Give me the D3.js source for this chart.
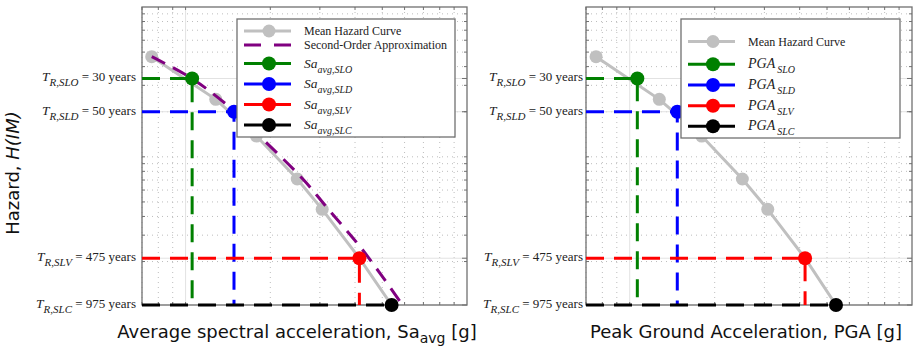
<!DOCTYPE html>
<html>
<head>
<meta charset="utf-8">
<script src="https://cdn.jsdelivr.net/npm/d3@7"></script>
<style>
    body { margin: 0; background: #fff; }
</style>
</head>
<body>
<div id="viz"></div>
<script>
// return periods of the four limit states
const limitStates = ["SLO", "SLD", "SLV", "SLC"];
const returnPeriods = [30, 50, 475, 975];
const lsColors = ["#008000", "#0000ff", "#ff0000", "#000000"];

// mean hazard curve (annual rate of exceedance)
const hazardRates = [0.0466, 0.0242, 0.01376, 0.00711, 0.00446];
const saavgValues = [0.0758, 0.128, 0.1785, 0.2493, 0.3058];
const pgaValues = [0.076, 0.1273, 0.1799, 0.2506, 0.3083];

// intensity at each limit state
const saavgLS = [0.1055, 0.1486, 0.4146, 0.5396];
const pgaLS = [0.1064, 0.1474, 0.418, 0.538];

// second-order approximation
const approxSa = [0.0758, 0.1055, 0.1474, 0.1833, 0.261, 0.3219, 0.4259, 0.5903];
const approxRate = [0.0466, 0.0332, 0.02053, 0.01376, 0.00711, 0.00446, 0.002388, 0.001025];

const width = 914;
const height = 353;

const svg = d3.select("#viz").append("svg")
    .attr("width", width)
    .attr("height", height)
    .style("font-family", "'Liberation Serif', 'Times New Roman', serif");

const y = d3.scaleLog().domain([1 / 975, 0.1]).range([305, 7]);

function addSub(text, main, sub, mainSize, subSize, gap) {
    text.append("tspan").style("font-style", "italic").style("font-size", mainSize + "px").text(main);
    text.append("tspan").style("font-style", "italic").style("font-size", subSize + "px")
        .attr("dx", gap || 0).attr("dy", 5).text(sub);
}

function drawPanel(opts) {
    const x = d3.scaleLog().domain([0.07, 1]).range(opts.range);
    const [x0, x1] = opts.range;
    const y0 = y.range()[1], y1 = y.range()[0];
    const g = svg.append("g");

    g.append("clipPath").attr("id", "clip" + opts.id)
        .append("rect").attr("x", x0).attr("y", y0).attr("width", x1 - x0).attr("height", y1 - y0);

    // minor grid
    const xMinor = [0.07, 0.08, 0.09, 0.2, 0.3, 0.4, 0.5, 0.6, 0.7, 0.8, 0.9];
    const yMinor = [];
    [0.001, 0.01].forEach(e => d3.range(1, 10).forEach(k => yMinor.push(k * e)));
    const yMinorIn = yMinor.filter(v => v >= 1 / 975 && v < 0.1);

    g.selectAll(".xminor").data(xMinor).enter().append("line")
        .attr("x1", d => x(d)).attr("x2", d => x(d)).attr("y1", y0).attr("y2", y1)
        .attr("stroke", "#bdbdbd").attr("stroke-width", 1).attr("stroke-dasharray", "1,4");
    g.selectAll(".yminor").data(yMinorIn).enter().append("line")
        .attr("x1", x0).attr("x2", x1).attr("y1", d => y(d)).attr("y2", d => y(d))
        .attr("stroke", "#bdbdbd").attr("stroke-width", 1).attr("stroke-dasharray", "1,4");

    // major grid
    g.append("line").attr("x1", x(0.1)).attr("x2", x(0.1)).attr("y1", y0).attr("y2", y1)
        .attr("stroke", "#e2e2e2").attr("stroke-width", 1);
    g.selectAll(".ymajor").data(returnPeriods).enter().append("line")
        .attr("x1", x0).attr("x2", x1).attr("y1", d => y(1 / d)).attr("y2", d => y(1 / d))
        .attr("stroke", "#e2e2e2").attr("stroke-width", 1);

    // ticks
    const tk = g.append("g").attr("stroke", "#707070").attr("stroke-width", 1);
    xMinor.concat([0.1]).forEach(v => {
        tk.append("line").attr("x1", x(v)).attr("x2", x(v)).attr("y1", y1).attr("y2", y1 - 3);
        tk.append("line").attr("x1", x(v)).attr("x2", x(v)).attr("y1", y0).attr("y2", y0 + 3);
    });
    yMinorIn.forEach(v => {
        tk.append("line").attr("x1", x0).attr("x2", x0 + 3).attr("y1", y(v)).attr("y2", y(v));
        tk.append("line").attr("x1", x1).attr("x2", x1 - 3).attr("y1", y(v)).attr("y2", y(v));
    });
    returnPeriods.forEach(T => {
        tk.append("line").attr("x1", x0).attr("x2", x0 + 5).attr("y1", y(1 / T)).attr("y2", y(1 / T));
        tk.append("line").attr("x1", x1).attr("x2", x1 - 5).attr("y1", y(1 / T)).attr("y2", y(1 / T));
    });

    // frame
    g.append("rect").attr("x", x0).attr("y", y0).attr("width", x1 - x0).attr("height", y1 - y0)
        .attr("fill", "none").attr("stroke", "#707070").attr("stroke-width", 1.3);

    const plot = g.append("g").attr("clip-path", "url(#clip" + opts.id + ")");

    // limit state guide lines
    opts.ls.forEach((v, i) => {
        const yy = y(1 / returnPeriods[i]);
        g.append("path")
            .attr("d", `M${x0},${yy}H${x(v)}V${y1}`)
            .attr("fill", "none")
            .attr("stroke", lsColors[i])
            .attr("stroke-width", 3)
            .attr("stroke-dasharray", "18,10");
    });

    // mean hazard curve (passes through SLV and SLC points)
    const curve = opts.im.map((v, i) => [v, hazardRates[i]])
        .concat(opts.ls.slice(2).map((v, i) => [v, 1 / returnPeriods[i + 2]]));
    plot.append("path")
        .datum(curve)
        .attr("d", d3.line().x(d => x(d[0])).y(d => y(d[1])))
        .attr("fill", "none")
        .attr("stroke", "#c0c0c0")
        .attr("stroke-width", 3);
    plot.selectAll(".hz").data(opts.im).enter().append("circle")
        .attr("cx", d => x(d)).attr("cy", (d, i) => y(hazardRates[i]))
        .attr("r", 6.5).attr("fill", "#c0c0c0");

    if (opts.approx) {
        plot.append("path")
            .datum(opts.approx)
            .attr("d", d3.line().curve(d3.curveCatmullRom).x(d => x(d[0])).y(d => y(d[1])))
            .attr("fill", "none")
            .attr("stroke", "#800080")
            .attr("stroke-width", 3)
            .attr("stroke-dasharray", "15,9");
    }

    g.selectAll(".lsdot").data(opts.ls).enter().append("circle")
        .attr("cx", d => x(d)).attr("cy", (d, i) => y(1 / returnPeriods[i]))
        .attr("r", 7).attr("fill", (d, i) => lsColors[i]);

    // y tick labels
    returnPeriods.forEach((T, i) => {
        const t = g.append("text")
            .attr("x", opts.labelEnd).attr("y", y(1 / T) + 3)
            .attr("text-anchor", "end").attr("fill", "#222");
        addSub(t, "T", "R," + limitStates[i], 13.5, 11);
        t.append("tspan").attr("dy", -5).style("font-size", "13px").text(" = " + T + " years");
    });

    // legend
    const lg = opts.legend;
    const leg = g.append("g");
    leg.append("rect").attr("x", lg.x).attr("y", lg.y).attr("width", lg.w).attr("height", lg.h)
        .attr("fill", "#fff").attr("stroke", "#707070").attr("stroke-width", 1.3);
    lg.items.forEach((it, i) => {
        const yy = lg.rows[i];
        leg.append("line").attr("x1", lg.x + 7).attr("x2", lg.x + 54).attr("y1", yy).attr("y2", yy)
            .attr("stroke", it.color).attr("stroke-width", 3)
            .attr("stroke-dasharray", it.dash ? "17,13" : null);
        if (!it.dash) {
            leg.append("circle").attr("cx", lg.x + 32).attr("cy", yy).attr("r", it.color === "#c0c0c0" ? 6.5 : 7)
                .attr("fill", it.color);
        }
        const t = leg.append("text").attr("x", lg.x + 67).attr("y", yy + 4).attr("fill", "#222");
        if (it.sub) {
            addSub(t, it.main, it.sub, it.size, 10, it.gap);
        } else {
            t.style("font-size", "12px").text(it.main);
        }
    });

    // x label
    const xl = svg.append("text")
        .attr("x", opts.xLabelX).attr("y", 338)
        .attr("text-anchor", "middle")
        .style("font-family", "'DejaVu Sans', sans-serif")
        .style("font-size", "18px")
        .attr("fill", "#111");
    xl.append("tspan").text(opts.xLabel[0]);
    if (opts.xLabel[1]) {
        xl.append("tspan").attr("dy", 5).style("font-size", "14px").text(opts.xLabel[1]);
        xl.append("tspan").attr("dy", -5).text(opts.xLabel[2]);
    }
}

drawPanel({
    id: "a",
    range: [142, 467],
    im: saavgValues,
    ls: saavgLS,
    approx: approxSa.map((v, i) => [v, approxRate[i]]),
    labelEnd: 136,
    xLabelX: 297,
    xLabel: ["Average spectral acceleration, Sa", "avg", " [g]"],
    legend: {
        x: 237, y: 19, w: 218, h: 118,
        rows: [31, 45, 63.5, 84, 104.5, 125],
        items: [
            { main: "Mean Hazard Curve", color: "#c0c0c0" },
            { main: "Second-Order Approximation", color: "#800080", dash: true },
            { main: "Sa", sub: "avg,SLO", size: 13.5, color: lsColors[0] },
            { main: "Sa", sub: "avg,SLD", size: 13.5, color: lsColors[1] },
            { main: "Sa", sub: "avg,SLV", size: 13.5, color: lsColors[2] },
            { main: "Sa", sub: "avg,SLC", size: 13.5, color: lsColors[3] }
        ]
    }
});

drawPanel({
    id: "b",
    range: [586, 912],
    im: pgaValues,
    ls: pgaLS,
    approx: null,
    labelEnd: 583,
    xLabelX: 746,
    xLabel: ["Peak Ground Acceleration, PGA [g]"],
    legend: {
        x: 681, y: 19, w: 219, h: 119,
        rows: [41.5, 64.3, 85, 105.7, 126.3],
        items: [
            { main: "Mean Hazard Curve", color: "#c0c0c0" },
            { main: "PGA", sub: "SLO", size: 14, gap: 2, color: lsColors[0] },
            { main: "PGA", sub: "SLD", size: 14, gap: 2, color: lsColors[1] },
            { main: "PGA", sub: "SLV", size: 14, gap: 2, color: lsColors[2] },
            { main: "PGA", sub: "SLC", size: 14, gap: 2, color: lsColors[3] }
        ]
    }
});

// y label
const ylab = svg.append("text")
    .attr("transform", "translate(19,173) rotate(-90)")
    .attr("text-anchor", "middle")
    .style("font-family", "'DejaVu Sans', sans-serif")
    .style("font-size", "18px")
    .attr("fill", "#111");
ylab.append("tspan").text("Hazard, ");
ylab.append("tspan").style("font-style", "italic").text("H(IM)");
</script>
</body>
</html>
